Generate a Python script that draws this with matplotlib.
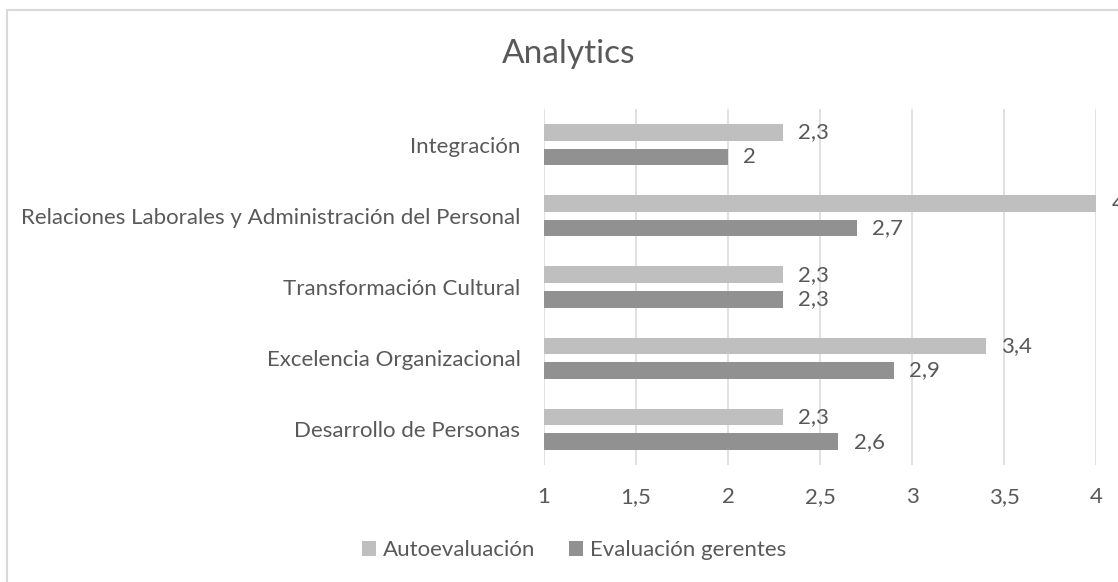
import numpy as np
import matplotlib.pyplot as plt
from matplotlib.patches import Rectangle

plt.rcParams['font.family'] = ['Lato', 'DejaVu Sans']

categorias = ["Desarrollo de Personas", "Excelencia Organizacional",
              "Transformación Cultural",
              "Relaciones Laborales y Administración del Personal",
              "Integración"]
autoevaluacion = [2.3, 3.4, 2.3, 4, 2.3]
evaluacion_gerentes = [2.6, 2.9, 2.3, 2.7, 2]
ticks_x = [1, 1.5, 2, 2.5, 3, 3.5, 4]

col_auto = "#bfbfbf"
col_ger = "#919191"
col_txt = "#595959"
fs = 16


def fmt(v):
    return ("%g" % v).replace(".", ",")


fig = plt.figure(figsize=(11.18, 5.82), dpi=100)
# marco del gráfico
fig.patches.append(Rectangle((7 / 1118, -0.1), 1.2, (582 - 10) / 582 + 0.1,
                             transform=fig.transFigure, fill=False,
                             edgecolor="#d9d9d9", linewidth=1.5))

ax = fig.add_axes([544 / 1118, 1 - 465 / 582, 552 / 1118, 356 / 582])
y = np.arange(len(categorias))
h = 0.232
off = 0.172
b1 = ax.barh(y + off, np.array(autoevaluacion) - 1, left=1, height=h,
             color=col_auto, label="Autoevaluación", zorder=3)
b2 = ax.barh(y - off, np.array(evaluacion_gerentes) - 1, left=1, height=h,
             color=col_ger, label="Evaluación gerentes", zorder=3)

for yy, v in list(zip(y + off, autoevaluacion)) + list(zip(y - off, evaluacion_gerentes)):
    ax.annotate(fmt(v), (v, yy), xytext=(11, 0), textcoords="offset points",
                va="center", ha="left", fontsize=fs, color=col_txt,
                annotation_clip=False)

ax.set_xlim(1, 4)
ax.set_ylim(-0.5, len(categorias) - 0.5)
ax.set_xticks(ticks_x)
ax.set_xticklabels([fmt(t) for t in ticks_x])
ax.set_yticks(y)
ax.set_yticklabels(categorias)
ax.tick_params(axis="both", length=0, labelsize=fs, colors=col_txt)
ax.tick_params(axis="x", pad=16)
ax.tick_params(axis="y", pad=17)
ax.grid(axis="x", color="#d9d9d9", linewidth=1.1, zorder=0)
for s in ax.spines.values():
    s.set_visible(False)

fig.text(569 / 1118, 1 - 54 / 582, "Analytics", ha="center", va="center",
         fontsize=24, color=col_txt)

fig.legend(handles=[b1, b2], loc="center", bbox_to_anchor=(574 / 1118, 1 - 550 / 582),
           ncol=2, frameon=False, fontsize=fs, labelcolor=col_txt,
           handlelength=0.65, handleheight=0.65, handletextpad=0.3, columnspacing=1.5)

fig.savefig("out.png", dpi=100)
